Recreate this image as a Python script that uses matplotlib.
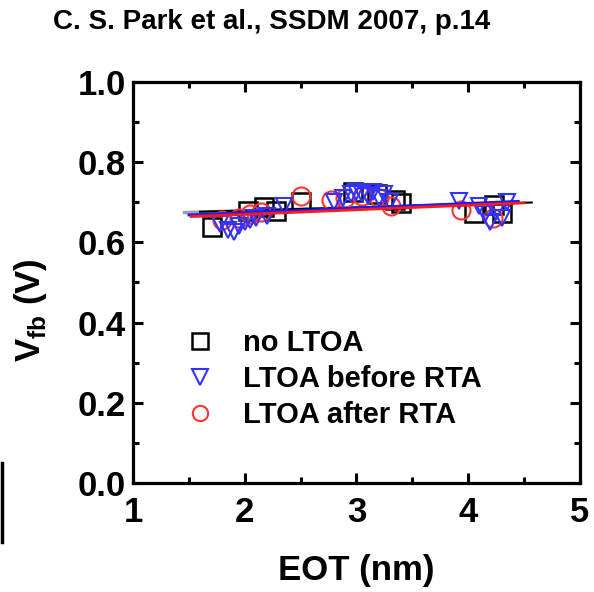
import matplotlib
matplotlib.use("Agg")
import matplotlib.pyplot as plt
from matplotlib.lines import Line2D

plt.rcParams['font.family'] = ['Liberation Sans', 'DejaVu Sans']
plt.rcParams['font.weight'] = 'bold'
plt.rcParams['mathtext.fontset'] = 'custom'
plt.rcParams['mathtext.rm'] = 'Liberation Sans:bold'
plt.rcParams['mathtext.bf'] = 'Liberation Sans:bold'

# data
no_ltoa_x = [1.71, 2.03, 2.17, 2.28, 2.50, 2.97, 3.18, 3.35, 3.40, 4.05, 4.23, 4.30]
no_ltoa_y = [0.639, 0.677, 0.689, 0.679, 0.701, 0.724, 0.719, 0.705, 0.697, 0.674, 0.692, 0.672]

before_x = [1.78, 1.85, 1.90, 1.95, 2.00, 2.05, 2.10, 2.20, 2.35,
            2.80, 2.88, 2.95, 3.00, 3.05, 3.10, 3.15, 3.20, 3.25, 3.30,
            3.92, 4.10, 4.15, 4.20, 4.25, 4.30, 4.35]
before_y = [0.645, 0.630, 0.625, 0.640, 0.650, 0.655, 0.660, 0.665, 0.690,
            0.700, 0.710, 0.720, 0.725, 0.720, 0.715, 0.725, 0.710, 0.720, 0.700,
            0.704, 0.690, 0.670, 0.650, 0.675, 0.660, 0.700]

after_x = [1.80, 1.95, 2.05, 2.15, 2.50, 2.77, 2.90, 3.05, 3.20, 3.31, 3.94, 4.22]
after_y = [0.655, 0.660, 0.670, 0.675, 0.715, 0.706, 0.710, 0.715, 0.710, 0.690, 0.680, 0.660]

# fit lines (end points)
fit_black_x = [1.60, 4.57]
fit_black_y = [0.676, 0.699]
fit_gray_x = [1.46, 4.40]
fit_gray_y = [0.674, 0.697]
fit_blue_x = [1.50, 4.45]
fit_blue_y = [0.668, 0.702]
fit_red_x = [1.52, 4.50]
fit_red_y = [0.664, 0.698]

fig = plt.figure(figsize=(5.94, 5.92), dpi=100)
ax = fig.add_axes([0.224, 0.184, 0.752, 0.678])

ax.plot(fit_gray_x, fit_gray_y, color='#a0a0a0', lw=2.5, zorder=1)
ax.plot(fit_black_x, fit_black_y, color='black', lw=1.5, zorder=1)

ax.plot(no_ltoa_x, no_ltoa_y, 's', ms=13, mfc='none', mec='black', mew=1.8,
        label='no LTOA', zorder=2)
ax.plot(before_x, before_y, 'v', ms=12, mfc='none', mec='#3333ff', mew=1.5,
        label='LTOA before RTA', zorder=3)
ax.plot(after_x, after_y, 'o', ms=13, mfc='none', mec='#ff3333', mew=1.5,
        label='LTOA after RTA', zorder=2)

ax.plot(fit_blue_x, fit_blue_y, color='#1a1aff', lw=2, zorder=4)
ax.plot(fit_red_x, fit_red_y, color='#ff1a1a', lw=2, zorder=4)

ax.set_xlim(1, 5)
ax.set_ylim(0.0, 1.0)
ax.set_xticks([1, 2, 3, 4, 5])
ax.set_xticks([1.5, 2.5, 3.5, 4.5], minor=True)
ax.set_yticks([0.0, 0.2, 0.4, 0.6, 0.8, 1.0])
ax.set_yticks([0.1, 0.3, 0.5, 0.7, 0.9], minor=True)
ax.set_yticklabels(['0.0', '0.2', '0.4', '0.6', '0.8', '1.0'])

for s in ax.spines.values():
    s.set_linewidth(2.3)
ax.tick_params(which='both', direction='in', top=True, right=True, width=2.2,
               labelsize=25)
ax.tick_params(which='major', length=7)
ax.tick_params(which='minor', length=4)
ax.tick_params(axis='x', pad=9)
ax.tick_params(axis='y', pad=5)

ax.set_xlabel('EOT (nm)', fontsize=25, fontweight='bold', labelpad=18)
ax.set_ylabel(r'V$_{\rm fb}$ (V)', fontsize=25, fontweight='bold')
ax.yaxis.set_label_coords(-0.188, 0.43)

leg = ax.legend(loc='lower left', bbox_to_anchor=(0.09, 0.098), frameon=False,
                fontsize=21, handletextpad=1.1, labelspacing=0.28, borderpad=0,
                handlelength=0.8)
for h in leg.legend_handles:
    h.set_markersize(11)

fig.text(0.458, 0.962, 'C. S. Park et al., SSDM 2007, p.14', ha='center',
         va='center', fontsize=20, fontweight='bold')

# stray black bar at the lower left edge
fig.add_artist(Line2D([0.003, 0.003], [1 - 463 / 592, 1 - 542 / 592],
                      color='black', lw=2.5, transform=fig.transFigure))

fig.savefig('out.png', dpi=100)
